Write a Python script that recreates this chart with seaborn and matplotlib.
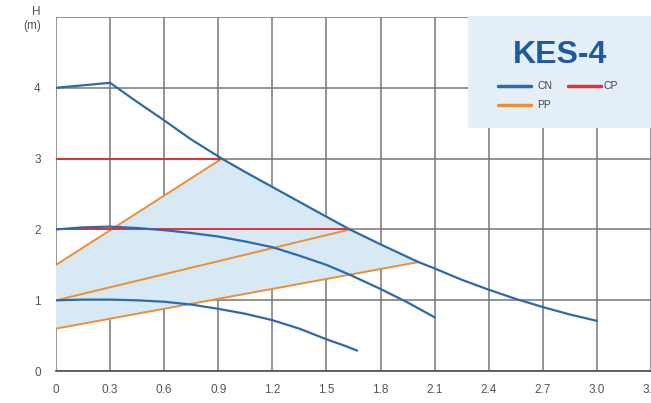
import numpy as np
import pandas as pd
import matplotlib.pyplot as plt
import seaborn as sns

# đường cong CN (3 tốc độ)
cn_hi_x = [0, 0.3, 0.45, 0.6, 0.75, 0.92, 1.05, 1.2, 1.35, 1.5, 1.63, 1.8, 2.01, 2.1, 2.25, 2.4, 2.55, 2.7, 2.85, 3.0]
cn_hi_y = [4.0, 4.07, 3.8, 3.54, 3.27, 3.0, 2.81, 2.6, 2.39, 2.18, 2.0, 1.79, 1.54, 1.45, 1.29, 1.15, 1.02, 0.905, 0.8, 0.71]
cn_mid_x = [0, 0.15, 0.3, 0.45, 0.6, 0.75, 0.9, 1.05, 1.2, 1.35, 1.5, 1.63, 1.74, 1.8, 1.95, 2.1]
cn_mid_y = [2.0, 2.03, 2.04, 2.02, 1.99, 1.95, 1.9, 1.83, 1.75, 1.63, 1.5, 1.36, 1.23, 1.16, 0.97, 0.76]
cn_lo_x = [0, 0.15, 0.3, 0.45, 0.6, 0.75, 0.9, 1.05, 1.2, 1.35, 1.5, 1.6, 1.67]
cn_lo_y = [1.0, 1.01, 1.01, 1.0, 0.98, 0.94, 0.88, 0.81, 0.72, 0.6, 0.45, 0.36, 0.29]

# đường CP
cp_x = [[0, 0.92], [0, 1.63]]
cp_y = [[3.0, 3.0], [2.0, 2.0]]

# đường PP
pp_x = [[0, 0.92], [0, 1.63], [0, 2.01]]
pp_y = [[1.5, 3.0], [1.0, 2.0], [0.6, 1.54]]

x_ticks = [0, 0.3, 0.6, 0.9, 1.2, 1.5, 1.8, 2.1, 2.4, 2.7, 3.0, 3.3]
x_labels = ["0", "0.3", "0.6", "0.9", "1.2", "1.5", "1.8", "2.1", "2.4", "2.7", "3.0", "3.3"]
y_ticks = [0, 1, 2, 3, 4, 5]
y_labels = ["0", "1", "2", "3", "4", "H\n(m)"]

blue = "#2f6aa8"
red = "#e0303a"
orange = "#ee8e35"

sns.set_style("white")
plt.rcParams["font.family"] = ["Liberation Sans", "DejaVu Sans"]

fig = plt.figure(figsize=(6.51, 4.03), dpi=100)
ax = fig.add_axes([0.086, 0.079, 0.914, 0.879])

# vùng tô: PP dưới -> CN trên -> PP trên
upper = [(x, y) for x, y in zip(cn_hi_x, cn_hi_y) if pp_x[0][1] <= x <= pp_x[2][1]]
poly_x = [pp_x[2][0], pp_x[2][1]] + [p[0] for p in upper[::-1]] + [pp_x[0][0]]
poly_y = [pp_y[2][0], pp_y[2][1]] + [p[1] for p in upper[::-1]] + [pp_y[0][0]]
ax.fill(poly_x, poly_y, color="#d6e9f4", lw=0, zorder=1)

for xs, ys in zip(pp_x, pp_y):
    sns.lineplot(x=xs, y=ys, ax=ax, color=orange, lw=1.4, zorder=3)
for xs, ys in zip(cp_x, cp_y):
    sns.lineplot(x=xs, y=ys, ax=ax, color=red, lw=1.4, zorder=3)
for xs, ys in [(cn_hi_x, cn_hi_y), (cn_mid_x, cn_mid_y), (cn_lo_x, cn_lo_y)]:
    sns.lineplot(x=xs, y=ys, ax=ax, color=blue, lw=1.6, sort=False, estimator=None, zorder=4)

ax.set_xlim(0, 3.3)
ax.set_ylim(0, 5)
ax.set_xticks(x_ticks)
ax.set_xticklabels(x_labels)
ax.set_yticks(y_ticks)
ax.set_yticklabels(y_labels)
ax.grid(True, color="#777777", lw=1.1, zorder=0)
ax.set_axisbelow(True)
for s in ["top", "right", "left"]:
    ax.spines[s].set_visible(False)
ax.spines["bottom"].set_color("#555555")
ax.spines["bottom"].set_linewidth(1.3)
ax.tick_params(axis="y", length=9, width=1.1, color="#777777", labelsize=8.5, labelcolor="#555555", pad=2)
ax.tick_params(axis="x", length=5, width=1.1, color="#777777", labelsize=8.5, labelcolor="#555555", pad=4)
ax.set_xlabel("")
ax.set_ylabel("")

# hộp chú thích
box = fig.add_axes([0.719, 0.683, 0.281, 0.278])
box.set_facecolor("#e4eff8")
box.set_xlim(0, 1)
box.set_ylim(0, 1)
box.set_xticks([])
box.set_yticks([])
for s in box.spines.values():
    s.set_visible(False)
box.text(0.5, 0.65, "KES-4", ha="center", va="center", fontsize=23, fontweight="bold", color="#1f5aa0")
box.plot([0.164, 0.344], [0.37, 0.37], color=blue, lw=2.5)
box.text(0.377, 0.37, "CN", va="center", fontsize=7.5, color="#444444")
box.plot([0.546, 0.727], [0.37, 0.37], color=red, lw=2.5)
box.text(0.743, 0.37, "CP", va="center", fontsize=7.5, color="#444444")
box.plot([0.164, 0.344], [0.2, 0.2], color=orange, lw=2.5)
box.text(0.377, 0.2, "PP", va="center", fontsize=7.5, color="#444444")

fig.savefig("out.png", dpi=100)
